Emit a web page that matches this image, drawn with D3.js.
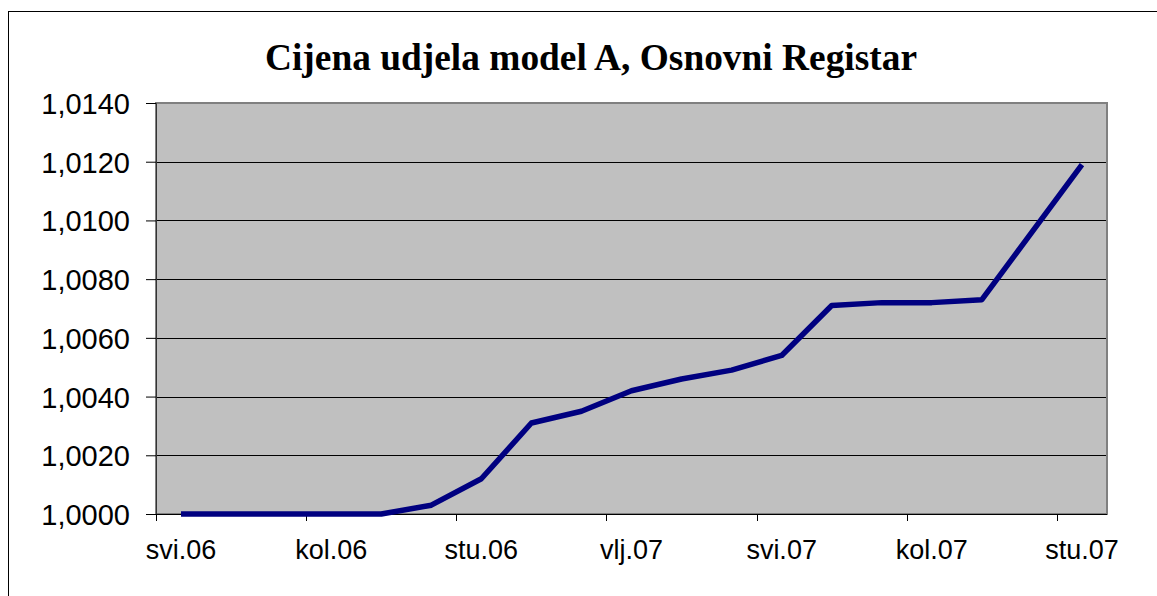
<!DOCTYPE html>
<html>
<head>
<meta charset="utf-8">
<script src="https://cdn.jsdelivr.net/npm/d3@7"></script>
<style>
  body { margin: 0; background: #fff; }
  svg { display: block; }
</style>
</head>
<body>
<div id="chart"></div>
<script>
const width = 1157;
const height = 596;

// monthly categories, May 2006 - Nov 2007
const months = ["svi.06", "lip.06", "srp.06", "kol.06", "ruj.06", "lis.06", "stu.06",
    "pro.06", "sij.07", "vlj.07", "ožu.07", "tra.07", "svi.07", "lip.07", "srp.07",
    "kol.07", "ruj.07", "lis.07", "stu.07"];
const prices = [1.0000, 1.0000, 1.0000, 1.0000, 1.0000, 1.0003, 1.0012, 1.0031,
    1.0035, 1.0042, 1.0046, 1.0049, 1.0054, 1.0071, 1.0072, 1.0072, 1.0073, 1.0096, 1.0119];
const yTicks = [1.0000, 1.0020, 1.0040, 1.0060, 1.0080, 1.0100, 1.0120, 1.0140];
const labelEvery = 3;

const plot = { left: 156, top: 103, right: 1107, bottom: 514 };

const svg = d3.select("#chart")
    .append("svg")
    .attr("width", width)
    .attr("height", height);

// outer chart frame (runs off the right and bottom edge)
svg.append("rect")
    .attr("x", 8.5)
    .attr("y", 11.5)
    .attr("width", width + 20)
    .attr("height", height + 20)
    .attr("fill", "#fff")
    .attr("stroke", "#000")
    .attr("stroke-width", 1);

const x = d3.scaleBand()
    .domain(months)
    .range([plot.left, plot.right]);

const y = d3.scaleLinear()
    .domain([1.0000, 1.0140])
    .range([plot.bottom, plot.top]);

// plot background
svg.append("rect")
    .attr("x", plot.left)
    .attr("y", plot.top)
    .attr("width", plot.right - plot.left)
    .attr("height", plot.bottom - plot.top)
    .attr("fill", "#c0c0c0")
    .attr("stroke", "#808080")
    .attr("stroke-width", 2);

// horizontal gridlines
svg.selectAll(".grid")
    .data(yTicks.slice(1, -1))
    .enter()
    .append("line")
    .attr("class", "grid")
    .attr("x1", plot.left)
    .attr("x2", plot.right - 1)
    .attr("y1", d => Math.round(y(d)) + 0.5)
    .attr("y2", d => Math.round(y(d)) + 0.5)
    .attr("stroke", "#000")
    .attr("stroke-width", 1);

// y axis
const fmt = d => d.toFixed(4).replace(".", ",");
const yAxis = d3.axisLeft(y)
    .tickValues(yTicks)
    .tickFormat(fmt)
    .tickSize(10)
    .tickPadding(16);

const yg = svg.append("g")
    .attr("transform", `translate(${plot.left},0)`)
    .call(yAxis);
yg.select(".domain").attr("stroke", "#333");
yg.selectAll(".tick line").attr("stroke", "#000");
yg.selectAll("text")
    .attr("font-family", "Liberation Sans, Arial, sans-serif")
    .attr("font-size", 29)
    .attr("fill", "#000")
    .attr("dy", "0.36em");

// x axis: ticks between categories, one every three months
const xAxis = d3.axisBottom(x).tickSize(0).tickFormat("");
const xg = svg.append("g")
    .attr("transform", `translate(0,${plot.bottom})`)
    .call(xAxis);
xg.select(".domain").attr("stroke", "#000").attr("d", `M${plot.left},0.5H${plot.right}`);

const tickMonths = months.filter((m, i) => i % labelEvery === 0);
svg.selectAll(".xtick")
    .data(tickMonths)
    .enter()
    .append("line")
    .attr("class", "xtick")
    .attr("x1", d => Math.round(x(d)) + 0.5)
    .attr("x2", d => Math.round(x(d)) + 0.5)
    .attr("y1", plot.bottom)
    .attr("y2", plot.bottom + 7)
    .attr("stroke", "#000");

svg.selectAll(".xlabel")
    .data(tickMonths)
    .enter()
    .append("text")
    .attr("class", "xlabel")
    .attr("x", d => x(d) + x.bandwidth() / 2)
    .attr("y", 559)
    .attr("text-anchor", "middle")
    .attr("font-family", "Liberation Sans, Arial, sans-serif")
    .attr("font-size", 27)
    .attr("fill", "#000")
    .text(d => d);

// price line
const line = d3.line()
    .x((d, i) => x(months[i]) + x.bandwidth() / 2)
    .y(d => y(d));

svg.append("path")
    .datum(prices)
    .attr("d", line)
    .attr("fill", "none")
    .attr("stroke", "#000080")
    .attr("stroke-width", 5.5)
    .attr("stroke-linejoin", "round");

// title
svg.append("text")
    .attr("x", 591)
    .attr("y", 70)
    .attr("text-anchor", "middle")
    .attr("font-family", "Liberation Serif, Times New Roman, serif")
    .attr("font-weight", "bold")
    .attr("font-size", 37)
    .attr("textLength", 652)
    .attr("lengthAdjust", "spacingAndGlyphs")
    .text("Cijena udjela model A, Osnovni Registar");
</script>
</body>
</html>
